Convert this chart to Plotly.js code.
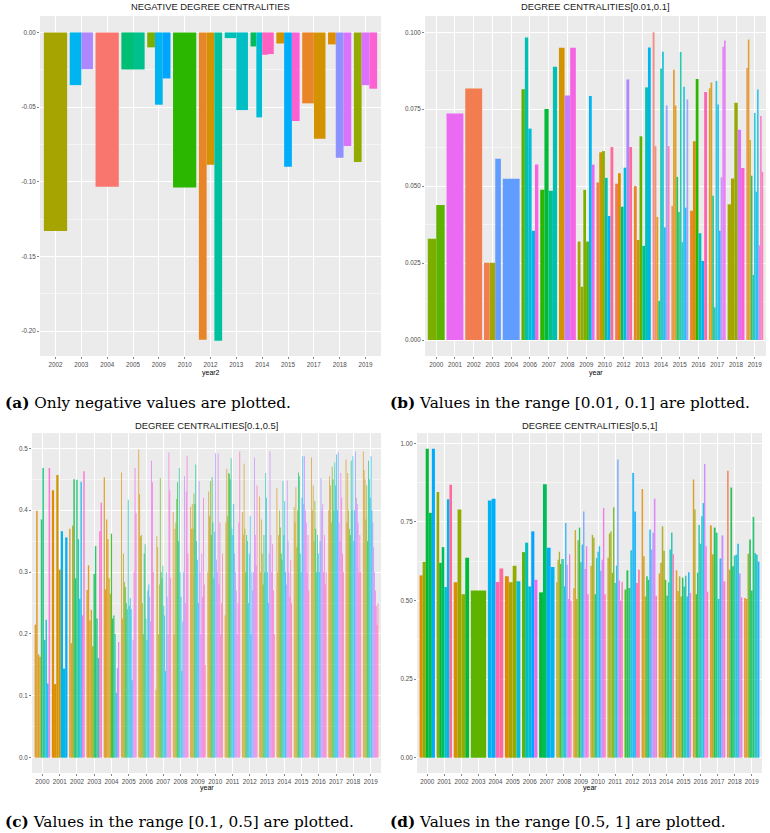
<!DOCTYPE html>
<html>
<head>
<meta charset="utf-8">
<script src="https://cdn.plot.ly/plotly-3.0.1.min.js"></script>
<style>
  body { margin: 0; background: #fff; }
  #plot { width: 770px; height: 833px; }
</style>
</head>
<body>
<div id="plot"></div>
<script>
// (a) only negative values, x = year2
var negYears = ['2002','2003','2004','2005','2009','2010','2012','2013','2014','2015','2017','2018','2019'];
var negValues = [
  [-0.133],
  [-0.0353, -0.0246],
  [-0.1033],
  [-0.0248, -0.0248],
  [-0.0100, -0.0484, -0.0308],
  [-0.1038],
  [-0.2058, -0.0886, -0.2065],
  [-0.0038, -0.0520],
  [-0.0094, -0.0569, -0.0150, -0.0145],
  [-0.0074, -0.0900, -0.0594],
  [-0.0475, -0.0712],
  [-0.0080, -0.0839, -0.0761],
  [-0.0868, -0.0353, -0.0377]
];
var negGroups = [[7],[21,26],[0],[14,15],[9,21,23],[11],[2,4,16],[17,18],[13,19,32,32],[4,22,31],[2,4],[3,25,28],[8,28,31]];

// (b) values in [0.01, 0.1]
var midYears = ['2000','2001','2002','2003','2004','2006','2007','2008','2009','2010','2012','2013','2014','2015','2016','2017','2018','2019'];
var midValues = [
  [0.0329, 0.0439],
  [0.0736],
  [0.0817],
  [0.0251, 0.0251, 0.0589],
  [0.0524],
  [0.0815, 0.0983, 0.0687, 0.0355, 0.0570],
  [0.0488, 0.0751, 0.0485, 0.0888],
  [0.0950, 0.0795, 0.0950],
  [0.0320, 0.0173, 0.0488, 0.0320, 0.0793, 0.0570],
  [0.0512, 0.0610, 0.0614, 0.0527, 0.0403, 0.0627],
  [0.0508, 0.0542, 0.0433, 0.0560, 0.0847, 0.0627],
  [0.0500, 0.0325, 0.0662, 0.0306, 0.0821, 0.0951],
  [0.1000, 0.0630, 0.0400, 0.0127, 0.0882, 0.0937, 0.0366, 0.0762, 0.0630],
  [0.0436, 0.0878, 0.0762, 0.0530, 0.0416, 0.0936, 0.0318, 0.0823, 0.0430, 0.0782],
  [0.0420, 0.0646, 0.0848, 0.0347, 0.0257, 0.0806],
  [0.0818, 0.0837, 0.0469, 0.0106, 0.0842, 0.0765, 0.0355, 0.0529, 0.0953, 0.0973],
  [0.0441, 0.0525, 0.0771, 0.0683, 0.0559],
  [0.0884, 0.0977, 0.0650, 0.0534, 0.0211, 0.0738, 0.0482, 0.0814, 0.0307, 0.0728, 0.0546]
];
var midGroups = [
  [9,10],[29],[1],[1,7,24],[24],[10,17,19,20,30],[11,12,15,17],[4,27,30],
  [7,8,9,10,21,29],[1,5,8,17,21,34],[1,3,14,19,26,34],[2,5,10,15,17,21],
  [0,1,3,14,16,19,22,25,33],[1,3,4,12,13,16,18,20,22,25],[2,3,11,18,21,33],
  [3,4,14,16,19,20,22,27,28,29],[7,7,8,28,31],[2,3,5,13,16,19,20,21,29,32,34]
];

// (c) values in [0.1, 0.5]
var allYears = ['2000','2001','2002','2003','2004','2005','2006','2007','2008','2009','2010','2011','2012','2013','2014','2015','2016','2017','2018','2019'];
var hiValues = [
  [0.215,0.399,0.167,0.163,0.385,0.468,0.19,0.223,0.12,0.468],
  [0.432,0.119,0.457,0.304,0.366,0.144,0.356],
  [0.37,0.185,0.375,0.45,0.29,0.449,0.353,0.257,0.446,0.23,0.463],
  [0.271,0.311,0.222,0.239,0.18,0.297,0.342,0.225,0.161,0.366,0.412],
  [0.453,0.272,0.385,0.353,0.29,0.265,0.362,0.225,0.23,0.2,0.105,0.145,0.187],
  [0.461,0.225,0.33,0.284,0.276,0.25,0.24,0.417,0.245,0.258,0.24,0.125,0.19,0.3,0.468,0.395],
  [0.498,0.426,0.358,0.36,0.25,0.2,0.33,0.345,0.225,0.19,0.27,0.28,0.26,0.22,0.48,0.445,0.3],
  [0.11,0.358,0.34,0.2,0.28,0.452,0.3,0.29,0.31,0.245,0.23,0.14,0.3,0.26,0.2,0.493,0.432,0.29],
  [0.397,0.2,0.37,0.38,0.418,0.445,0.35,0.468,0.3,0.26,0.14,0.22,0.3,0.455,0.25,0.43,0.488,0.33],
  [0.405,0.37,0.41,0.37,0.427,0.41,0.474,0.35,0.32,0.25,0.447,0.3,0.2,0.33,0.26,0.42,0.28,0.15],
  [0.3,0.43,0.39,0.447,0.36,0.453,0.38,0.29,0.365,0.492,0.32,0.3,0.492,0.28,0.38,0.2,0.25,0.33],
  [0.23,0.38,0.467,0.39,0.46,0.459,0.45,0.484,0.37,0.36,0.41,0.33,0.3,0.27,0.2,0.25,0.38,0.495],
  [0.397,0.36,0.475,0.37,0.3,0.36,0.35,0.25,0.33,0.39,0.2,0.3,0.27,0.3,0.485,0.36,0.31,0.44],
  [0.422,0.3,0.385,0.33,0.28,0.36,0.3,0.46,0.42,0.3,0.25,0.33,0.495,0.36,0.3,0.345,0.27,0.2],
  [0.436,0.3,0.36,0.4,0.372,0.33,0.32,0.447,0.36,0.415,0.3,0.28,0.448,0.35,0.3,0.26,0.32,0.25],
  [0.405,0.38,0.437,0.34,0.4,0.461,0.455,0.33,0.3,0.42,0.487,0.41,0.487,0.4,0.38,0.3,0.36,0.27],
  [0.485,0.4,0.44,0.35,0.415,0.37,0.3,0.36,0.33,0.3,0.35,0.452,0.4,0.41,0.3,0.36,0.28,0.3],
  [0.4,0.455,0.44,0.38,0.47,0.45,0.4,0.477,0.44,0.49,0.4,0.493,0.38,0.35,0.46,0.42,0.33,0.3],
  [0.482,0.38,0.46,0.4,0.37,0.36,0.48,0.4,0.487,0.35,0.4,0.495,0.42,0.41,0.38,0.3,0.36,0.3],
  [0.495,0.465,0.45,0.385,0.44,0.35,0.48,0.45,0.42,0.487,0.4,0.38,0.34,0.3,0.27,0.245,0.215,0.25]
];
var hiGroups = [
  [3,3,4,4,13,14,17,20,22,31],
  [3,3,4,4,21,20,22],
  [3,4,5,12,13,14,16,20,21,30,31],
  [3,3,4,5,7,12,13,14,17,32,31],
  [3,3,3,4,4,5,11,12,13,17,20,26,29],
  [3,4,7,9,11,13,15,17,19,20,21,23,26,28,30,32],
  [3,4,5,7,9,10,12,14,16,18,20,22,25,27,29,31,33],
  [3,4,5,7,9,10,12,14,16,18,20,22,24,26,28,30,31,33],
  [3,4,5,8,10,12,14,16,18,20,22,24,25,26,28,30,31,33],
  [3,4,4,7,10,12,15,19,21,23,25,27,28,29,30,31,32,34],
  [3,4,5,9,11,13,15,17,20,25,26,27,29,30,31,32,33,34],
  [3,4,5,8,10,12,14,16,18,20,23,25,26,27,28,30,31,32],
  [3,4,5,8,11,14,17,20,21,22,23,24,25,26,27,29,31,33],
  [3,4,5,8,10,12,15,17,19,21,23,25,27,28,29,31,32,34],
  [3,4,5,8,10,12,15,17,19,21,23,25,27,28,29,31,32,34],
  [3,4,5,8,10,12,15,17,19,21,23,25,27,28,29,31,32,34],
  [3,4,5,8,10,12,15,17,19,21,23,25,27,28,29,31,32,34],
  [3,4,5,8,10,12,15,17,19,21,23,25,27,28,29,31,32,34],
  [3,4,5,8,10,12,15,17,19,21,23,25,27,28,29,31,32,34],
  [3,4,5,8,10,12,15,17,19,21,23,25,27,28,29,31,32,34]
];

// (d) values in [0.5, 1]
var topValues = [
  [0.58,0.623,0.983,0.779,0.983],
  [0.845,0.62,0.67,0.543,0.822,0.868],
  [0.558,0.79,0.52,0.636],
  [0.532],
  [0.818,0.824,0.559,0.602],
  [0.577,0.558,0.611,0.561],
  [0.654,0.684,0.545,0.72,0.566],
  [0.526,0.87,0.668,0.607],
  [0.558,0.63,0.655,0.616,0.632,0.632,0.545,0.747,0.614,0.505,0.647,0.5],
  [0.539,0.724,0.505,0.692,0.732,0.622,0.678,0.783,0.6,0.673,0.52],
  [0.611,0.709,0.7,0.52,0.635,0.655,0.673,0.595,0.63,0.794,0.52],
  [0.636,0.713,0.72,0.588,0.797,0.556,0.611,0.949,0.564,0.5,0.56],
  [0.535,0.596,0.54,0.66,0.906,0.783,0.556,0.598],
  [0.855,0.641,0.513,0.577,0.566,0.726,0.662,0.716,0.824,0.515],
  [0.586,0.62,0.736,0.658,0.566,0.515,0.558,0.662,0.716,0.647],
  [0.596,0.53,0.577,0.513,0.573,0.545,0.579,0.513,0.59,0.524],
  [0.885,0.79,0.52,0.588,0.74,0.681,0.768,0.81,0.934,0.673,0.528],
  [0.739,0.647,0.732,0.716,0.505,0.634,0.707,0.561],
  [0.913,0.598,0.86,0.609,0.643,0.646,0.681,0.586,0.51],
  [0.508,0.505,0.649,0.694,0.532,0.766,0.651,0.646,0.624]
];
var topGroups = [
  [3,8,12,13,22],
  [8,12,13,18,21,34],
  [3,8,8,12],
  [10],
  [21,22,33,34],
  [3,7,8,19],
  [10,18,19,23,29],
  [12,13,22,21],
  [5,7,8,11,14,16,18,23,25,28,30,32],
  [3,5,7,9,12,15,20,24,27,30,32],
  [5,7,8,13,16,19,22,24,27,30,33],
  [5,7,8,9,10,16,19,24,29,31,33],
  [11,12,13,19,22,22,33,34],
  [3,5,7,12,13,22,25,26,28,33],
  [3,5,7,8,11,13,16,18,17,33],
  [3,5,7,8,12,15,17,20,23,31],
  [4,7,11,13,15,17,18,20,27,30,33],
  [3,7,12,14,17,22,27,31],
  [1,7,12,13,16,18,21,27,31],
  [2,3,8,12,13,13,17,18,23]
];

// y tick labels as ggplot prints them
var negTicks = [0, -0.05, -0.10, -0.15, -0.20];
var negTickText = ['0.00', '-0.05', '-0.10', '-0.15', '-0.20'];
var midTicks = [0, 0.025, 0.05, 0.075, 0.1];
var midTickText = ['0.000', '0.025', '0.050', '0.075', '0.100'];
var hiTicks = [0, 0.1, 0.2, 0.3, 0.4, 0.5];
var hiTickText = ['0.0', '0.1', '0.2', '0.3', '0.4', '0.5'];
var topTicks = [0, 0.25, 0.5, 0.75, 1];
var topTickText = ['0.00', '0.25', '0.50', '0.75', '1.00'];

var W = 770, H = 833;

// ggplot2 hue palette, hcl(h, c = 100, l = 65), 36 levels
function hueColor(g) {
  var h = (15 + 10 * g) * Math.PI / 180;
  var L = 65, C = 100;
  var Xn = 95.047, Yn = 100, Zn = 108.883;
  var un = 4 * Xn / (Xn + 15 * Yn + 3 * Zn), vn = 9 * Yn / (Xn + 15 * Yn + 3 * Zn);
  var Y = Yn * Math.pow((L + 16) / 116, 3);
  var u = C * Math.cos(h) / (13 * L) + un;
  var v = C * Math.sin(h) / (13 * L) + vn;
  var X = Y * 9 * u / (4 * v);
  var Z = Y * (12 - 3 * u - 20 * v) / (4 * v);
  X /= 100; Y /= 100; Z /= 100;
  var r = 3.240479 * X - 1.537150 * Y - 0.498535 * Z;
  var gg = -0.969256 * X + 1.875992 * Y + 0.041556 * Z;
  var b = 0.055648 * X - 0.204043 * Y + 1.057311 * Z;
  function gam(c) {
    c = c <= 0.0031308 ? 12.92 * c : 1.055 * Math.pow(c, 1 / 2.4) - 0.055;
    return Math.round(255 * Math.max(0, Math.min(1, c)));
  }
  return 'rgb(' + gam(r) + ',' + gam(gg) + ',' + gam(b) + ')';
}

// position_dodge: each year's bars share 0.9 of the slot
function dodge(values, groups, xa, ya, dense) {
  var x = [], y = [], w = [], c = [], op = [];
  for (var i = 0; i < values.length; i++) {
    var n = values[i].length;
    for (var j = 0; j < n; j++) {
      x.push(i - 0.45 + 0.9 * (j + 0.5) / n);
      w.push(0.9 / n);
      y.push(values[i][j]);
      c.push(hueColor(groups[i][j]));
      op.push(n > 13 ? dense : (n > 7 ? 0.82 : 1));
    }
  }
  return {type: 'bar', x: x, y: y, width: w, xaxis: xa, yaxis: ya,
          marker: {color: c, opacity: op, line: {width: 0}}, hoverinfo: 'skip'};
}

var tickFont = {family: 'Liberation Sans, Arial, sans-serif', size: 6.3, color: '#4D4D4D'};

function xAxis(left, right, labels, anchor) {
  return {
    domain: [left / W, right / W], anchor: anchor,
    range: [-0.6, labels.length - 0.4],
    tickmode: 'array', tickvals: labels.map(function(l, i) { return i; }), ticktext: labels,
    showgrid: true, gridcolor: '#FFFFFF', gridwidth: 1, zeroline: false, showline: false,
    ticks: 'outside', ticklen: 2, tickwidth: 0.6, tickcolor: '#333333',
    tickfont: tickFont, fixedrange: true
  };
}

function yAxis(top, bottom, range, tv, tt, minor, anchor) {
  return {
    domain: [1 - bottom / H, 1 - top / H], anchor: anchor, range: range,
    tickmode: 'array', tickvals: tv, ticktext: tt,
    showgrid: true, gridcolor: '#FFFFFF', gridwidth: 1, zeroline: false, showline: false,
    ticks: 'outside', ticklen: 2, tickwidth: 0.6, tickcolor: '#333333',
    tickfont: tickFont, fixedrange: true,
    minor: {tickmode: 'linear', tick0: 0, dtick: minor, showgrid: true,
            gridcolor: '#FFFFFF', gridwidth: 0.5, ticks: ''}
  };
}

var data = [
  dodge(negValues, negGroups, 'x', 'y', 1),
  dodge(midValues, midGroups, 'x2', 'y2', 1),
  dodge(hiValues, hiGroups, 'x3', 'y3', 0.7),
  dodge(topValues, topGroups, 'x4', 'y4', 0.8)
];

function note(text, px, py, size, family, anchor, color) {
  return {text: text, xref: 'paper', yref: 'paper', x: px / W, y: 1 - py / H,
          xanchor: anchor, yanchor: 'middle', showarrow: false,
          font: {family: family, size: size, color: color || '#000000'}};
}

var sans = 'Liberation Sans, Arial, sans-serif';
var serif = 'DejaVu Serif, serif';

var layout = {
  width: W, height: H,
  margin: {l: 0, r: 0, t: 0, b: 0},
  paper_bgcolor: '#FFFFFF', plot_bgcolor: '#EBEBEB',
  showlegend: false, barmode: 'overlay',
  xaxis: xAxis(40, 381, negYears, 'y'),
  yaxis: yAxis(16, 356, [-0.2167, 0.011], negTicks, negTickText, 0.025, 'x'),
  xaxis2: xAxis(425, 766, midYears, 'y2'),
  yaxis2: yAxis(16, 356, [-0.0052, 0.1053], midTicks, midTickText, 0.0125, 'x2'),
  xaxis3: xAxis(32, 381, allYears, 'y3'),
  yaxis3: yAxis(433, 773, [-0.0247, 0.5247], hiTicks, hiTickText, 0.05, 'x3'),
  xaxis4: xAxis(417, 762, allYears, 'y4'),
  yaxis4: yAxis(433, 773, [-0.0487, 1.033], topTicks, topTickText, 0.125, 'x4'),
  annotations: [
    note('NEGATIVE DEGREE CENTRALITIES', 210.5, 6.5, 9.4, sans, 'center', '#1A1A1A'),
    note('DEGREE CENTRALITIES[0.01,0.1]', 595.5, 6.5, 9.4, sans, 'center', '#1A1A1A'),
    note('DEGREE CENTRALITIES[0.1,0.5]', 206.5, 425, 9.4, sans, 'center', '#1A1A1A'),
    note('DEGREE CENTRALITIES[0.5,1]', 589.5, 425, 9.4, sans, 'center', '#1A1A1A'),
    note('year2', 210.5, 373, 7, sans, 'center'),
    note('year', 595.5, 373, 7, sans, 'center'),
    note('year', 206.5, 788, 7, sans, 'center'),
    note('year', 589.5, 788, 7, sans, 'center'),
    note('<b>(a)</b> Only negative values are plotted.', 3, 403, 15.3, serif, 'left'),
    note('<b>(b)</b> Values in the range [0.01, 0.1] are plotted.', 388, 403, 15.3, serif, 'left'),
    note('<b>(c)</b> Values in the range [0.1, 0.5] are plotted.', 3, 822, 15.3, serif, 'left'),
    note('<b>(d)</b> Values in the range [0.5, 1] are plotted.', 388, 822, 15.3, serif, 'left')
  ]
};

Plotly.newPlot('plot', data, layout, {staticPlot: true, displayModeBar: false});
</script>
</body>
</html>
